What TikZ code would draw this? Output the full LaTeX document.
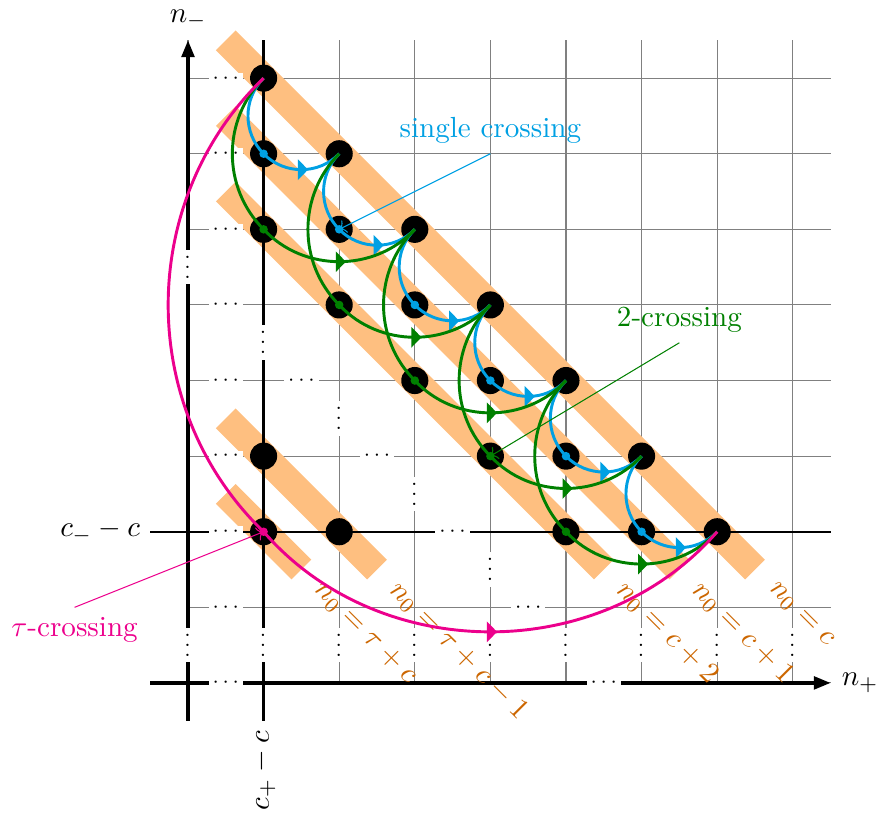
\documentclass[tikz,border=0pt,11pt]{standalone}
\usetikzlibrary{arrows.meta,decorations.markings}
\definecolor{cblue}{RGB}{0,160,227}
\definecolor{cmag}{RGB}{236,0,140}
\definecolor{cgreen}{RGB}{0,128,0}
\definecolor{bandcol}{RGB}{254,191,128}
\definecolor{bandtext}{RGB}{204,102,0}
\begin{document}
\begin{tikzpicture}[
  gridline/.style={gray, line width=0.4pt},
  axisline/.style={line width=1.2pt, -{Triangle[length=6.3pt,width=4.8pt]}},
  mainline/.style={line width=0.9pt},
  bandline/.style={bandcol, line width=10.5pt},
  bandlabel/.style={bandtext, rotate=-45, anchor=west, outer sep=5.25pt},
  ell/.style={fill=white, inner sep=0pt, minimum width=13pt, minimum height=4pt, font=\scriptsize},
  vell/.style={ell, rotate=90},
  bigdot/.style={circle, fill=black, minimum size=10.2pt, inner sep=0pt},
  smalldot/.style={circle, minimum size=3.2pt, inner sep=0pt},
  crosscurve/.style={line width=1.1pt},
  midarrow/.style={postaction={decorate}, decoration={markings, mark=at position 0.5 with {\arrow[xshift=2.5pt]{Triangle[length=3.8pt,width=7.6pt]}}}},
  annot/.style={line width=0.4pt, ->},
]
\useasboundingbox (-2.487,-1.759) rectangle (9.167,9.034);

% grid
\draw[gridline] (0,0) grid (8.5,8.5);

% bands
\coordinate (b9s) at (0.5,8.5); \coordinate (b9e) at (7.5,1.5);
\coordinate (b8s) at (0.5,7.5); \coordinate (b8e) at (6.5,1.5);
\coordinate (b7s) at (0.5,6.5); \coordinate (b7e) at (5.5,1.5);
\coordinate (b4s) at (0.5,3.5); \coordinate (b4e) at (2.5,1.5);
\coordinate (b3s) at (0.5,2.5); \coordinate (b3e) at (1.5,1.5);
\draw[bandline] (b9s) -- (b9e);
\draw[bandline] (b8s) -- (b8e);
\draw[bandline] (b7s) -- (b7e);
\draw[bandline] (b4s) -- (b4e);
\draw[bandline] (b3s) -- (b3e);

% axes and lines
\coordinate (xs) at (-0.5,0); \coordinate (xe) at (8.5,0);
\coordinate (ys) at (0,-0.5); \coordinate (ye) at (0,8.5);
\coordinate (hs) at (-0.5,2); \coordinate (he) at (8.5,2);
\coordinate (vs) at (1,-0.5); \coordinate (ve) at (1,8.5);
\draw[axisline] (xs) -- (xe) node[right] (nplus) {$n_+$};
\draw[axisline] (ys) -- (ye) node[above] (nminus) {$n_-$};
\draw[mainline] (hs) -- (he);
\draw[mainline] (vs) -- (ve);
\node[anchor=east] (cm) at (hs) {$c_- - c$};
\node[anchor=east, rotate=90] (cp) at (vs) {$c_+ - c$};

% ellipses
\foreach \y in {0,...,8} \node[ell] (ha\y) at (0.5,\y) {$\cdots$};
\foreach \y in {0,...,4} \node[ell] (hb\y) at ({5.5-\y},\y) {$\cdots$};
\foreach \x in {0,...,8} \node[vell] (va\x) at (\x,0.5) {$\cdots$};
\foreach \x in {0,...,4} \node[vell] (vb\x) at (\x,{5.5-\x}) {$\cdots$};

% band labels
\node[bandlabel] (l9) at (b9e) {$n_0=c$};
\node[bandlabel] (l8) at (b8e) {$n_0=c+1$};
\node[bandlabel] (l7) at (b7e) {$n_0=c+2$};
\node[bandlabel] (l4) at (b4e) {$n_0=\tau+c-1$};
\node[bandlabel] (l3) at (b3e) {$n_0=\tau+c$};

% lattice dots
\foreach \x/\y in {1/8,1/7,2/7,1/6,2/6,3/6,2/5,3/5,4/5,3/4,4/4,5/4,1/3,4/3,5/3,6/3,1/2,2/2,5/2,6/2,7/2}
  \node[bigdot] (p\x\y) at (\x,\y) {};

% single crossings
\foreach \x/\y/\z/\w in {1/8/7/2,2/7/6/3,3/6/5/4,4/5/4/5,5/4/3/6,6/3/2/7}{
  \draw[crosscurve, cblue] (p\x\y.center) to[bend right=45] (p\x\z.center);
  \draw[crosscurve, cblue, midarrow] (p\x\z.center) to[bend right=46] (p\w\z.center);
}
% 2-crossings
\foreach \x/\y/\z/\w in {1/8/6/3,2/7/5/4,3/6/4/5,4/5/3/6,5/4/2/7}{
  \draw[crosscurve, cgreen] (p\x\y.center) to[bend right=45] (p\x\z.center);
  \draw[crosscurve, cgreen, midarrow] (p\x\z.center) to[bend right=47] (p\w\z.center);
}
% tau-crossing
\draw[crosscurve, cmag] (p18.center) to[bend right=46] (p12.center);
\draw[crosscurve, cmag, midarrow] (p12.center) to[bend right=49] (p72.center);

% small dots
\foreach \x/\y in {1/7,2/6,3/5,4/4,5/3,6/2} \node[smalldot, fill=cblue] (sb\x\y) at (\x,\y) {};
\foreach \x/\y in {1/6,2/5,3/4,4/3,5/2} \node[smalldot, fill=cgreen] (sg\x\y) at (\x,\y) {};
\node[smalldot, fill=cmag] (sm12) at (1,2) {};

% annotations
\node[cblue, anchor=south] (sclab) at (4,7) {single crossing};
\draw[annot, cblue] (sclab.south) -- (sb26.center);
\node[cgreen, anchor=south] (tclab) at (6.5,4.5) {2-crossing};
\draw[annot, cgreen] (tclab.south) -- (sg43.center);
\node[cmag, anchor=north] (taulab) at (-1.5,1) {$\tau$-crossing};
\draw[annot, cmag] (taulab.north) -- (sm12.center);
\end{tikzpicture}
\end{document}
